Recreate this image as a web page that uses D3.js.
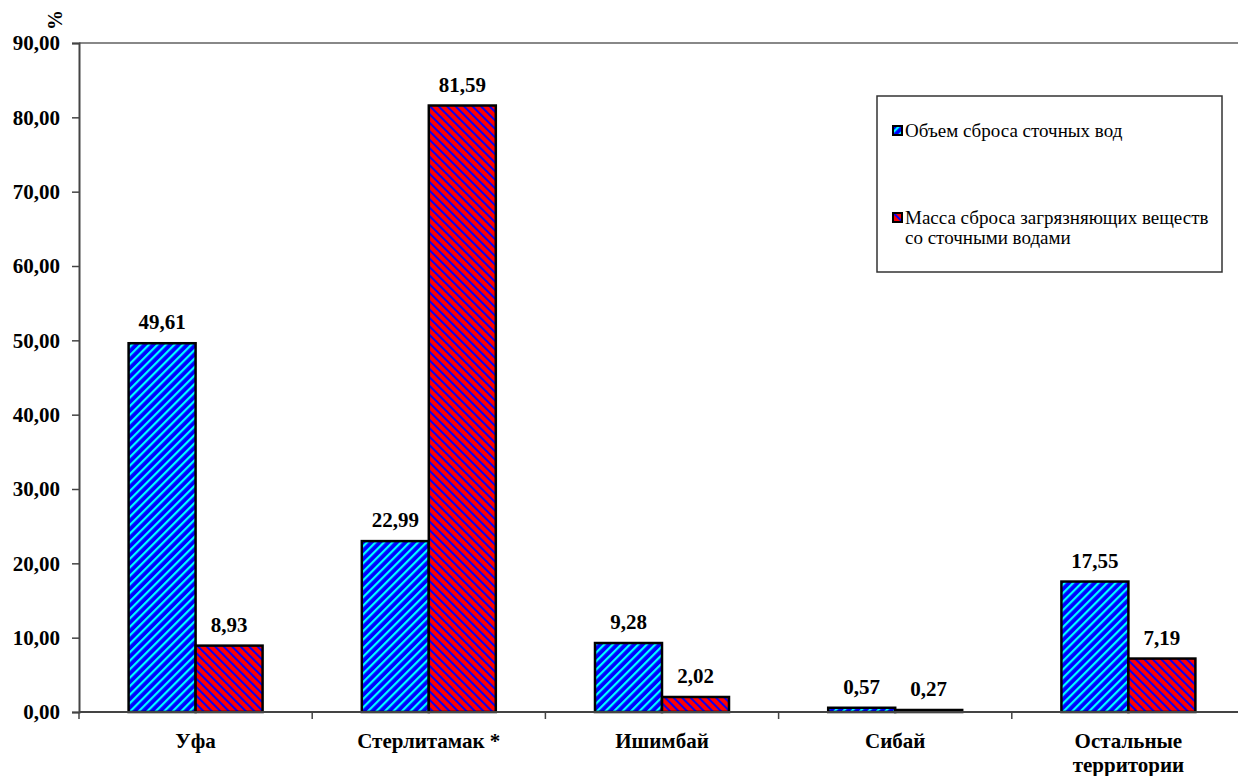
<!DOCTYPE html>
<html>
<head>
<meta charset="utf-8">
<script src="https://cdn.jsdelivr.net/npm/d3@7"></script>
<style>
  body { margin: 0; background: #fff; }
</style>
</head>
<body>
<div id="chart"></div>
<script>
var categories = ["Уфа", "Стерлитамак *", "Ишимбай", "Сибай", "Остальные территории"];
var volume = [49.61, 22.99, 9.28, 0.57, 17.55];
var mass = [8.93, 81.59, 2.02, 0.27, 7.19];
var seriesNames = ["Объем сброса сточных вод", "Масса сброса загрязняющих веществ со сточными водами"];
var yTicks = [0, 10, 20, 30, 40, 50, 60, 70, 80, 90];

var width = 1238, height = 776;
var margin = {top: 43, right: -7, bottom: 64, left: 79};
var serif = "Liberation Serif";

var svg = d3.select("#chart")
    .append("svg")
    .attr("width", width)
    .attr("height", height);

let defs = svg.append("defs");
let pBlue = defs.append("pattern")
    .attr("id", "pBlue")
    .attr("patternUnits", "userSpaceOnUse")
    .attr("width", 6).attr("height", 6)
    .attr("patternTransform", "rotate(45)");
pBlue.append("rect").attr("width", 6).attr("height", 6).attr("fill", "#0000ff");
pBlue.append("rect").attr("width", 2.2).attr("height", 6).attr("fill", "#00ffff");

let pRed = defs.append("pattern")
    .attr("id", "pRed")
    .attr("patternUnits", "userSpaceOnUse")
    .attr("width", 6).attr("height", 6)
    .attr("patternTransform", "rotate(-45)");
pRed.append("rect").attr("width", 6).attr("height", 6).attr("fill", "#ff0000");
pRed.append("rect").attr("width", 1.9).attr("height", 6).attr("fill", "#0000ff");

let x = d3.scaleBand()
    .domain(categories)
    .range([margin.left, width - margin.right]);

let y = d3.scaleLinear()
    .domain([0, 90])
    .range([height - margin.bottom, margin.top]);

let barW = 67;

// top border of plot area
svg.append("line")
    .attr("x1", margin.left).attr("x2", width)
    .attr("y1", y(90)).attr("y2", y(90))
    .attr("stroke", "#888").attr("stroke-width", 2);

// y axis
let yAxis = svg.append("g")
    .attr("transform", `translate(${margin.left},0)`)
    .call(d3.axisLeft(y).tickValues(yTicks).tickSize(7).tickPadding(12)
        .tickFormat(d => d3.format(".2f")(d).replace(".", ",")));
yAxis.select(".domain").attr("stroke", "#444").attr("stroke-width", 2);
yAxis.selectAll(".tick line").attr("stroke", "#444").attr("stroke-width", 1.5);
yAxis.selectAll("text")
    .attr("fill", "#000")
    .attr("font-family", serif)
    .attr("font-size", 21)
    .attr("font-weight", "bold");

svg.append("text")
    .attr("transform", `translate(55, 20) rotate(-90)`)
    .attr("text-anchor", "middle")
    .attr("dy", "0.35em")
    .attr("font-family", serif)
    .attr("font-size", 20)
    .attr("font-weight", "bold")
    .text("%");

// bars
let groups = categories.map((c, i) => ({cat: c, v: [volume[i], mass[i]]}));

groups.forEach(function(g) {
    let cx = x(g.cat) + x.bandwidth() / 2;
    g.v.forEach(function(val, j) {
        let bx = cx - barW + j * barW;
        svg.append("rect")
            .attr("x", bx)
            .attr("y", y(val))
            .attr("width", barW)
            .attr("height", y(0) - y(val))
            .attr("fill", j === 0 ? "url(#pBlue)" : "url(#pRed)")
            .attr("stroke", "#000")
            .attr("stroke-width", 2.5);
        svg.append("text")
            .attr("x", bx + barW / 2)
            .attr("y", y(val) - 14)
            .attr("text-anchor", "middle")
            .attr("font-family", serif)
            .attr("font-size", 21)
            .attr("font-weight", "bold")
            .text(d3.format(".2f")(val).replace(".", ","));
    });
});

// x axis
let xAxis = svg.append("g")
    .attr("transform", `translate(0,${y(0)})`);
xAxis.append("line")
    .attr("x1", margin.left).attr("x2", width)
    .attr("y1", 0).attr("y2", 0)
    .attr("stroke", "#444").attr("stroke-width", 2);
categories.forEach(function(c, i) {
    xAxis.append("line")
        .attr("x1", x(c)).attr("x2", x(c))
        .attr("y1", 0).attr("y2", 7)
        .attr("stroke", "#444").attr("stroke-width", 1.5);
    let words = c === "Остальные территории" ? ["Остальные", "территории"] : [c];
    let t = xAxis.append("text")
        .attr("text-anchor", "middle")
        .attr("font-family", serif)
        .attr("font-size", 21)
        .attr("font-weight", "bold");
    words.forEach(function(w, k) {
        t.append("tspan")
            .attr("x", x(c) + x.bandwidth() / 2)
            .attr("y", 36 + k * 24)
            .text(w);
    });
});

// legend
let lg = svg.append("g").attr("transform", "translate(877,96)");
lg.append("rect")
    .attr("width", 345).attr("height", 176)
    .attr("fill", "#fff").attr("stroke", "#333").attr("stroke-width", 1.5);
let legendRows = [
    {fill: "url(#pBlue)", lines: [seriesNames[0]], y: 35},
    {fill: "url(#pRed)", lines: ["Масса сброса загрязняющих веществ", "со сточными водами"], y: 122}
];
legendRows.forEach(function(r) {
    lg.append("rect")
        .attr("x", 16).attr("y", r.y - 5)
        .attr("width", 9).attr("height", 9)
        .attr("fill", r.fill)
        .attr("stroke", "#000").attr("stroke-width", 2);
    let t = lg.append("text").attr("font-family", serif).attr("font-size", 19);
    r.lines.forEach(function(l, k) {
        t.append("tspan")
            .attr("x", 28)
            .attr("y", r.y + 6 + k * 20)
            .text(l);
    });
});
</script>
</body>
</html>
